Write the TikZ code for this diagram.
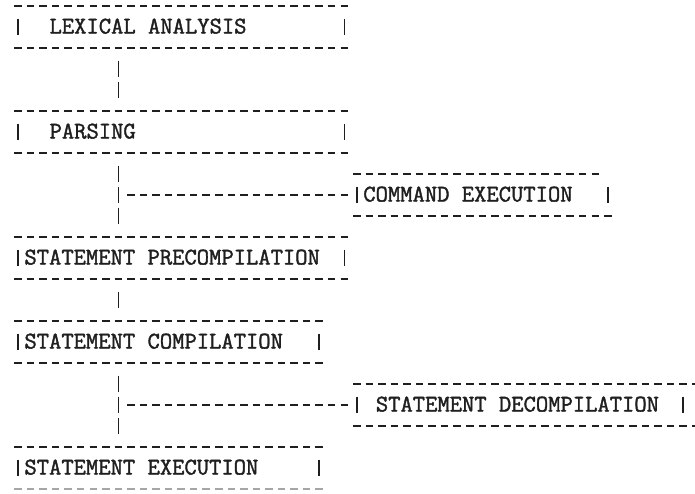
\documentclass[tikz,border=0pt]{standalone}
\usepackage{fontspec}
\newfontfamily\tw[FakeBold=1.6]{Latin Modern Mono}
\begin{document}
\begin{tikzpicture}[x=1pt,y=1pt,
  ink/.style={draw=black!88, line width=1.6pt},
  dashrow/.style={ink, dash pattern=on 7.5pt off 5.05pt},
  barst/.style={ink},
  vconn/.style={ink, dash pattern=on 16.8pt off 4.2pt},
  hconn/.style={ink, dash pattern=on 7.5pt off 5.05pt},
  lbl/.style={font=\tw\fontsize{23.9}{24}\selectfont, text=black!88, inner sep=0pt, anchor=base west},
  faint/.style={draw=black!35}
]
\useasboundingbox (0,0) rectangle (695,-493);
\clip (0,0) rectangle (695,-493);
\begin{scope}[x=12.55pt, y=-21pt, shift={(18pt,-6pt)}]
% ---------- LEXICAL ANALYSIS
\draw[dashrow] (-0.3,0) -- (26.3,0);
\draw[barst] (0,0.6) -- (0,1.4);
\draw[barst] (26,0.6) -- (26,1.4);
\node[lbl] (lex) at (2.5,1.31) {LEXICAL ANALYSIS};
\draw[dashrow] (-0.3,2) -- (26.3,2);
% ---------- PARSING
\draw[dashrow] (-0.3,5) -- (26.3,5);
\draw[barst] (0,5.6) -- (0,6.4);
\draw[barst] (26,5.6) -- (26,6.4);
\node[lbl] (parse) at (2.5,6.31) {PARSING};
\draw[dashrow] (-0.3,7) -- (26.3,7);
% ---------- COMMAND EXECUTION
\draw[dashrow] (26.7,8) -- (46.3,8);
\draw[barst] (27,8.6) -- (27,9.4);
\draw[barst] (47,8.6) -- (47,9.4);
\node[lbl] (cmd) at (27.5,9.31) {COMMAND EXECUTION};
\draw[dashrow] (26.7,10) -- (47.3,10);
% ---------- STATEMENT PRECOMPILATION
\draw[dashrow] (-0.3,11) -- (26.3,11);
\draw[barst] (0,11.6) -- (0,12.4);
\draw[barst] (26,11.6) -- (26,12.4);
\node[lbl] (pre) at (0.5,12.31) {STATEMENT PRECOMPILATION};
\draw[dashrow] (-0.3,13) -- (26.3,13);
% ---------- STATEMENT COMPILATION
\draw[dashrow] (-0.3,15) -- (24.3,15);
\draw[barst] (0,15.6) -- (0,16.4);
\draw[barst] (24,15.6) -- (24,16.4);
\node[lbl] (comp) at (0.5,16.31) {STATEMENT COMPILATION};
\draw[dashrow] (-0.3,17) -- (24.3,17);
% ---------- STATEMENT DECOMPILATION
\draw[dashrow] (26.7,18) -- (54.3,18);
\draw[barst] (27,18.6) -- (27,19.4);
\draw[barst] (53,18.6) -- (53,19.4);
\node[lbl] (decomp) at (28.5,19.31) {STATEMENT DECOMPILATION};
\draw[dashrow] (26.7,20) -- (54.3,20);
% ---------- STATEMENT EXECUTION
\draw[dashrow] (-0.3,21) -- (24.3,21);
\draw[barst] (0,21.6) -- (0,22.4);
\draw[barst] (24,21.6) -- (24,22.4);
\node[lbl] (exec) at (0.5,22.31) {STATEMENT EXECUTION};
\draw[dashrow, faint] (-0.3,23) -- (24.3,23);
% ---------- connector end points
\coordinate (lex-out) at (8,2.6);
\coordinate (parse-in) at (8,4.4);
\coordinate (parse-out) at (8,7.6);
\coordinate (pre-in) at (8,10.4);
\coordinate (branch1) at (8.7,9);
\coordinate (cmd-in) at (26.3,9);
\coordinate (pre-out) at (8,13.6);
\coordinate (comp-in) at (8,14.4);
\coordinate (comp-out) at (8,17.6);
\coordinate (exec-in) at (8,20.4);
\coordinate (branch2) at (8.7,19);
\coordinate (decomp-in) at (26.3,19);
% ---------- connectors
\draw[vconn] (lex-out) -- (parse-in);
\draw[vconn] (parse-out) -- (pre-in);
\draw[hconn] (branch1) -- (cmd-in);
\draw[vconn] (pre-out) -- (comp-in);
\draw[vconn] (comp-out) -- (exec-in);
\draw[hconn] (branch2) -- (decomp-in);
\end{scope}
\end{tikzpicture}
\end{document}
